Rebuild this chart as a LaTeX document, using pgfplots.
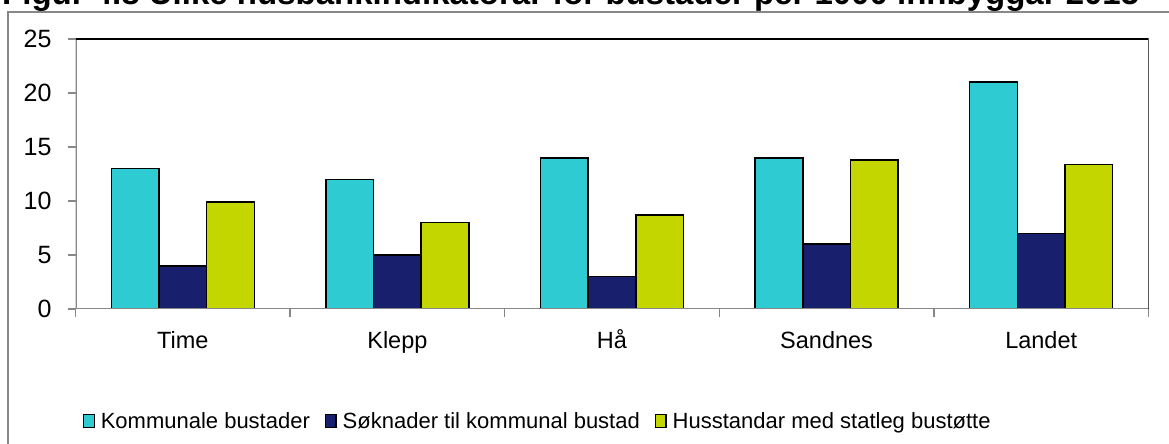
\documentclass[border=0pt]{standalone}
\usepackage{pgfplots}
\pgfplotsset{compat=1.18}
\usepackage{fontspec}
\setmainfont{Liberation Sans}
\definecolor{ccyan}{RGB}{46,204,210}
\definecolor{cnavy}{RGB}{24,31,108}
\definecolor{clime}{RGB}{196,214,0}
\definecolor{fgray}{RGB}{136,136,136}
\begin{document}
\begin{tikzpicture}
\draw[fgray, line width=1.5pt] (8pt,-10pt) -- (8pt,432pt) -- (1180pt,432pt);
\node[anchor=base west, inner sep=0pt, font=\bfseries\fontsize{33}{38}\selectfont] at (2pt,439pt) {Figur 4.8 Ulike husbankindikatorar for bustader per 1000 innbyggar 2015};
\begin{axis}[
  at={(75.5pt,135pt)}, anchor=south west,
  scale only axis, width=1073pt, height=270pt,
  xmin=-0.5, xmax=4.5, ymin=0, ymax=25,
  ytick={0,5,...,25},
  xtick={-0.5,0.5,...,4.5}, xticklabels={},
  xtick pos=bottom, ytick pos=left,
  extra x ticks={0,1,2,3,4},
  extra x tick labels={Time,Klepp,Hå,Sandnes,Landet},
  extra x tick style={major tick length=0pt, tick style={draw=none},
     xticklabel style={font=\fontsize{23.5}{28}\selectfont, text height=17pt, text depth=5pt, yshift=-19pt}},
  tick align=outside, major tick length=7.5pt,
  tick style={fgray, line width=1.5pt},
  yticklabel style={font=\fontsize{25}{30}\selectfont, xshift=-13pt},
  /pgf/number format/assume math mode=true,
  axis line style={draw=none},
  ybar, bar width=0.2222,
  legend columns=3,
  legend style={draw=none, fill=none, inner sep=0pt, outer sep=0pt,
    at={(axis description cs:0.007,-0.4148)}, anchor=west,
    font=\fontsize{22}{26}\selectfont,
    nodes={inner sep=0pt},
    /tikz/every odd column/.append style={column sep=6pt},
    /tikz/every even column/.append style={column sep=15pt}},
  legend image code/.code={\draw[#1, line width=1.3pt] (0pt,-6.5pt) rectangle (10.5pt,6.5pt);},
]
\addplot[fill=ccyan, draw=black, line width=1.5pt, bar shift=-0.2222] coordinates {(0,13) (1,12) (2,14) (3,14) (4,21)};
\addplot[fill=cnavy, draw=black, line width=1.5pt, bar shift=0] coordinates {(0,4) (1,5) (2,3) (3,6) (4,7)};
\addplot[fill=clime, draw=black, line width=1.5pt, bar shift=0.2222] coordinates {(0,9.9) (1,8) (2,8.7) (3,13.8) (4,13.4)};
\legend{Kommunale bustader, Søknader til kommunal bustad, Husstandar med statleg bustøtte}
\draw[fgray, line width=2pt] (rel axis cs:0,1) -- (rel axis cs:0,0) -- (rel axis cs:1,0);
\draw[black, line width=2pt] (rel axis cs:0,1) -- (rel axis cs:1,1) -- (rel axis cs:1,0);
\end{axis}
\pgfresetboundingbox
\useasboundingbox (0pt,0pt) rectangle (1169pt,444pt);
\end{tikzpicture}
\end{document}
